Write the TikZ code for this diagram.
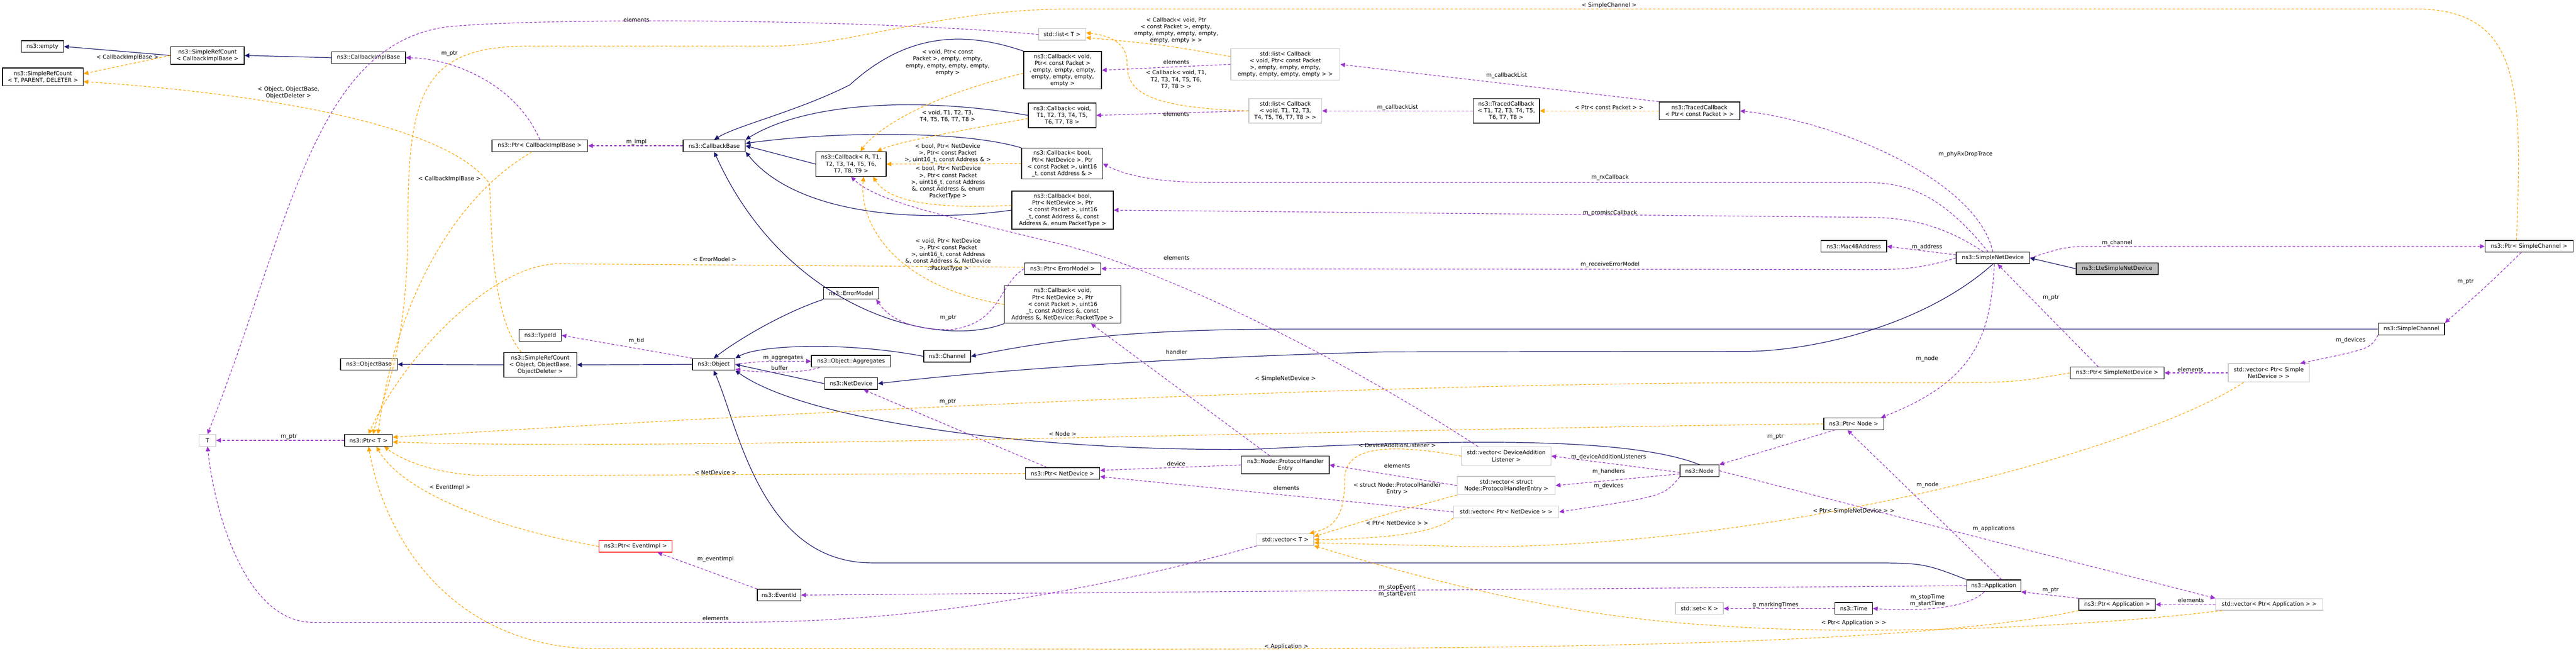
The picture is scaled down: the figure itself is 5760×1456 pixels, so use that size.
\documentclass[tikz,border=0pt]{standalone}
\usepackage{fontspec}
\setmainfont{DejaVu Sans}
\usetikzlibrary{arrows.meta}
\definecolor{navy}{HTML}{191970}
\definecolor{purp}{HTML}{9A32CD}
\definecolor{orng}{HTML}{FFA500}
\begin{document}
\begin{tikzpicture}[x=0.01cm,y=0.01cm,
  every node/.style={font=\fontsize{3.55}{4.3}\selectfont,align=center,inner sep=0pt},
  cls/.style={draw=black,line width=0.45pt,fill=white},
  tbox/.style={draw=black!22,line width=0.45pt,fill=white},
  redbox/.style={draw=red,line width=0.45pt,fill=white},
  graybox/.style={draw=black,line width=0.45pt,fill=black!25},
  inh/.style={draw=navy,line width=0.4pt,-{Triangle[length=3pt,width=2.8pt]}},
  usedge/.style={draw=purp,line width=0.4pt,dash pattern=on 1.6pt off 1.2pt,-{Triangle[length=3pt,width=2.8pt]}},
  tmpl/.style={draw=orng,line width=0.4pt,dash pattern=on 1.6pt off 1.2pt,-{Triangle[length=3pt,width=2.8pt]}},
  lbl/.style={fill=none}]
\useasboundingbox (0,0) rectangle (5760,-1456);
\fill[white] (0,0) rectangle (5760,-1456);
% nodes
\node[cls,minimum width=0.95cm,minimum height=0.26cm] (empty) at (95,-104) {ns3::empty};
\node[cls,minimum width=1.80cm,minimum height=0.40cm] (srcT) at (96,-172) {ns3::SimpleRefCount\\ \textless{} T, PARENT, DELETER \textgreater};
\node[cls,minimum width=1.64cm,minimum height=0.40cm] (srcCIB) at (464,-124) {ns3::SimpleRefCount\\ \textless{} CallbackImplBase \textgreater};
\node[cls,minimum width=1.65cm,minimum height=0.26cm] (cib) at (824,-129) {ns3::CallbackImplBase};
\node[cls,minimum width=2.14cm,minimum height=0.26cm] (ptrcib) at (1207,-326) {ns3::Ptr\textless{} CallbackImplBase \textgreater};
\node[cls,minimum width=1.39cm,minimum height=0.26cm] (cbbase) at (1597,-326) {ns3::CallbackBase};
\node[cls,minimum width=1.57cm,minimum height=0.55cm] (cbR) at (1903,-367) {ns3::Callback\textless{} R, T1,\\ T2, T3, T4, T5, T6,\\ T7, T8, T9 \textgreater};
\node[tbox,minimum width=1.05cm,minimum height=0.26cm] (listT) at (2375,-77) {std::list\textless{} T \textgreater};
\node[cls,minimum width=1.74cm,minimum height=0.84cm] (cbPkt) at (2376,-157) {ns3::Callback\textless{} void,\\ Ptr\textless{} const Packet \textgreater\\ , empty, empty, empty,\\ empty, empty, empty,\\ empty \textgreater};
\node[cls,minimum width=1.51cm,minimum height=0.55cm] (cbT8) at (2375,-258) {ns3::Callback\textless{} void,\\ T1, T2, T3, T4, T5,\\ T6, T7, T8 \textgreater};
\node[cls,minimum width=1.81cm,minimum height=0.69cm] (cbAddr) at (2375,-366) {ns3::Callback\textless{} bool,\\ Ptr\textless{} NetDevice \textgreater, Ptr\\ \textless{} const Packet \textgreater, uint16\\ \_t, const Address \& \textgreater};
\node[tbox,minimum width=2.44cm,minimum height=0.70cm] (listPkt) at (2874,-144) {std::list\textless{} Callback\\ \textless{} void, Ptr\textless{} const Packet\\ \textgreater, empty, empty, empty,\\ empty, empty, empty, empty \textgreater{} \textgreater};
\node[tbox,minimum width=1.63cm,minimum height=0.55cm] (listT8) at (2874,-248) {std::list\textless{} Callback\\ \textless{} void, T1, T2, T3,\\ T4, T5, T6, T7, T8 \textgreater{} \textgreater};
\node[cls,minimum width=1.48cm,minimum height=0.55cm] (tcT8) at (3368,-248) {ns3::TracedCallback\\ \textless{} T1, T2, T3, T4, T5,\\ T6, T7, T8 \textgreater};
\node[cls,minimum width=1.80cm,minimum height=0.40cm] (tcPkt) at (3800,-248) {ns3::TracedCallback\\ \textless{} Ptr\textless{} const Packet \textgreater{} \textgreater};
\node[cls,minimum width=2.27cm,minimum height=0.85cm] (cbEnum) at (2376,-470) {ns3::Callback\textless{} bool,\\ Ptr\textless{} NetDevice \textgreater, Ptr\\ \textless{} const Packet \textgreater, uint16\\ \_t, const Address \&, const\\ Address \&, enum PacketType \textgreater};
\node[cls,minimum width=1.71cm,minimum height=0.26cm] (ptrErr) at (2376,-601) {ns3::Ptr\textless{} ErrorModel \textgreater};
\node[cls,minimum width=2.60cm,minimum height=0.84cm] (cbND) at (2376,-681) {ns3::Callback\textless{} void,\\ Ptr\textless{} NetDevice \textgreater, Ptr\\ \textless{} const Packet \textgreater, uint16\\ \_t, const Address \&, const\\ Address \&, NetDevice::PacketType \textgreater};
\node[cls,minimum width=1.05cm,minimum height=0.26cm] (channel) at (2118,-797) {ns3::Channel};
\node[cls,minimum width=1.23cm,minimum height=0.26cm] (errmodel) at (1903,-656) {ns3::ErrorModel};
\node[cls,minimum width=0.95cm,minimum height=0.26cm] (object) at (1596,-815) {ns3::Object};
\node[cls,minimum width=1.77cm,minimum height=0.26cm] (aggr) at (1903,-808) {ns3::Object::Aggregates};
\node[cls,minimum width=1.19cm,minimum height=0.26cm] (netdev) at (1903,-858) {ns3::NetDevice};
\node[cls,minimum width=0.94cm,minimum height=0.26cm] (typeid) at (1208,-750) {ns3::TypeId};
\node[cls,minimum width=1.27cm,minimum height=0.26cm] (objbase) at (825,-815) {ns3::ObjectBase};
\node[cls,minimum width=1.63cm,minimum height=0.55cm] (srcObj) at (1208,-816) {ns3::SimpleRefCount\\ \textless{} Object, ObjectBase,\\ ObjectDeleter \textgreater};
\node[tbox,minimum width=0.37cm,minimum height=0.26cm] (T) at (464,-985) {T};
\node[cls,minimum width=1.07cm,minimum height=0.26cm] (ptrT) at (824,-985) {ns3::Ptr\textless{} T \textgreater};
\node[redbox,minimum width=1.64cm,minimum height=0.26cm] (ptrEv) at (1421,-1222) {ns3::Ptr\textless{} EventImpl \textgreater};
\node[cls,minimum width=0.97cm,minimum height=0.26cm] (eventid) at (1742,-1331) {ns3::EventId};
\node[cls,minimum width=1.66cm,minimum height=0.26cm] (ptrND) at (2376,-1059) {ns3::Ptr\textless{} NetDevice \textgreater};
\node[cls,minimum width=1.96cm,minimum height=0.40cm] (phe) at (2874,-1040) {ns3::Node::ProtocolHandler\\ Entry};
\node[tbox,minimum width=1.27cm,minimum height=0.26cm] (vecT) at (2874,-1207) {std::vector\textless{} T \textgreater};
\node[cls,minimum width=1.34cm,minimum height=0.26cm] (ptrNode) at (4145,-948) {ns3::Ptr\textless{} Node \textgreater};
\node[cls,minimum width=0.87cm,minimum height=0.26cm] (node) at (3800,-1053) {ns3::Node};
\node[tbox,minimum width=2.00cm,minimum height=0.41cm] (vecDAL) at (3368,-1020) {std::vector\textless{} DeviceAddition\\ Listener \textgreater};
\node[tbox,minimum width=2.19cm,minimum height=0.41cm] (vecPHE) at (3368,-1086) {std::vector\textless{} struct\\ Node::ProtocolHandlerEntry \textgreater};
\node[tbox,minimum width=2.35cm,minimum height=0.26cm] (vecND) at (3368,-1145) {std::vector\textless{} Ptr\textless{} NetDevice \textgreater{} \textgreater};
\node[cls,minimum width=1.21cm,minimum height=0.26cm] (app) at (4458,-1310) {ns3::Application};
\node[cls,minimum width=0.84cm,minimum height=0.26cm] (time) at (4145,-1361) {ns3::Time};
\node[tbox,minimum width=1.07cm,minimum height=0.26cm] (setK) at (3800,-1361) {std::set\textless{} K \textgreater};
\node[cls,minimum width=1.71cm,minimum height=0.26cm] (ptrApp) at (4734,-1352) {ns3::Ptr\textless{} Application \textgreater};
\node[tbox,minimum width=2.39cm,minimum height=0.26cm] (vecApp) at (5074,-1352) {std::vector\textless{} Ptr\textless{} Application \textgreater{} \textgreater};
\node[cls,minimum width=1.47cm,minimum height=0.26cm] (mac) at (4145,-551) {ns3::Mac48Address};
\node[cls,minimum width=1.64cm,minimum height=0.26cm] (snd) at (4456,-577) {ns3::SimpleNetDevice};
\node[graybox,minimum width=1.83cm,minimum height=0.26cm] (lte) at (4734,-601) {ns3::LteSimpleNetDevice};
\node[cls,minimum width=1.97cm,minimum height=0.26cm] (ptrSC) at (5655,-551) {ns3::Ptr\textless{} SimpleChannel \textgreater};
\node[cls,minimum width=1.48cm,minimum height=0.26cm] (sc) at (5392,-736) {ns3::SimpleChannel};
\node[cls,minimum width=2.10cm,minimum height=0.26cm] (ptrSND) at (4734,-834) {ns3::Ptr\textless{} SimpleNetDevice \textgreater};
\node[tbox,minimum width=1.81cm,minimum height=0.41cm] (vecSND) at (5073,-834) {std::vector\textless{} Ptr\textless{} Simple\\ NetDevice \textgreater{} \textgreater};

% inheritance
\draw[inh] (srcCIB.west) -- (empty.east);
\draw[inh] (cib.west) -- (srcCIB.east);
\draw[inh] (srcObj.west) -- (objbase.east);
\draw[inh] (object.west) -- (srcObj.east);
\draw[inh] (cbPkt.north west) .. controls (2130,-60) and (2010,-90) .. (1900,-190) .. controls (1780,-250) and (1650,-280) .. (cbbase.north);
\draw[inh] (cbT8.west) .. controls (2050,-215) and (1800,-230) .. (cbbase.north east);
\draw[inh] (cbR.west) -- (cbbase.east);
\draw[inh] (cbAddr.north west) .. controls (2150,-290) and (1850,-295) .. ([yshift=1.5pt]cbbase.east);
\draw[inh] (cbEnum.west) .. controls (2050,-500) and (1780,-480) .. (cbbase.south east);
\draw[inh] (cbND.south west) .. controls (2100,-780) and (1760,-700) .. (cbbase.south);
\draw[inh] (errmodel.south west) .. controls (1750,-700) and (1650,-760) .. (object.north);
\draw[inh] (channel.west) .. controls (1900,-765) and (1700,-770) .. (object.north east);
\draw[inh] (netdev.west) -- (object.east);
\draw[inh] (node.north) .. controls (3650,-980) and (3300,-980) .. (2800,-1005) .. controls (2300,-1010) and (1800,-940) .. (object.south east);
\draw[inh] (app.north west) .. controls (4300,-1259) .. (4160,-1259) -- (1950,-1259) .. controls (1700,-1259) and (1650,-950) .. (object.south);
\draw[inh] (sc.west) -- (2900,-736) .. controls (2600,-736) and (2400,-750) .. (channel.east);
\draw[inh] (snd.south) .. controls (4300,-730) and (4050,-786) .. (3900,-786) -- (3100,-787) .. controls (2600,-800) and (2200,-830) .. (netdev.east);
\draw[inh] (lte.west) -- (snd.east);

% usage (purple)
\draw[usedge] (cbbase.west) -- (ptrcib.east);
\node[lbl] (l1) at (1423,-318) {m\_impl};
\draw[usedge] (ptrcib.north) .. controls (1150,-180) and (1000,-130) .. (cib.east);
\node[lbl] (l2) at (1005,-120) {m\_ptr};
\draw[usedge] (listT.west) .. controls (1900,-40) and (1200,-40) .. (1000,-60) .. controls (700,-100) and (650,-500) .. (T.north);
\node[lbl] (l3) at (1423,-44) {elements};
\draw[usedge] (listPkt.west) -- (cbPkt.east);
\node[lbl] (l4) at (2630,-139) {elements};
\draw[usedge] (listT8.west) -- (cbT8.east);
\node[lbl] (l5) at (2630,-255) {elements};
\draw[usedge] (tcPkt.north west) -- (listPkt.east);
\node[lbl] (l6) at (3369,-169) {m\_callbackList};
\draw[usedge] (tcT8.west) -- (listT8.east);
\node[lbl] (l7) at (3125,-240) {m\_callbackList};
\draw[usedge] (snd.north) .. controls (4420,-400) and (4100,-270) .. (tcPkt.east);
\node[lbl] (l8) at (4395,-345) {m\_phyRxDropTrace};
\draw[usedge] ([xshift=-3pt]snd.north) .. controls (4330,-420) and (4250,-408) .. (4160,-408) -- (2700,-408) .. controls (2600,-408) and (2520,-395) .. (cbAddr.east);
\node[lbl] (l9) at (3600,-397) {m\_rxCallback};
\draw[usedge] ([xshift=-6pt]snd.north) .. controls (4340,-500) and (4260,-486) .. (4170,-486) -- (cbEnum.east);
\node[lbl] (l10) at (3600,-476) {m\_promiscCallback};
\draw[usedge] (snd.west) .. controls (4300,-600) and (4250,-603) .. (4190,-603) -- (ptrErr.east);
\node[lbl] (l11) at (3600,-592) {m\_receiveErrorModel};
\draw[usedge] (snd.east) .. controls (4620,-551) .. (4700,-551) -- (ptrSC.west);
\node[lbl] (l12) at (4734,-543) {m\_channel};
\draw[usedge] ([yshift=2pt]snd.west) -- (mac.east);
\node[lbl] (l13) at (4309,-553) {m\_address};
\draw[usedge] ([xshift=-5pt]ptrSC.south) .. controls (5560,-640) .. (sc.north east);
\node[lbl] (l14) at (5513,-630) {m\_ptr};
\draw[usedge] (sc.south west) .. controls (5300,-780) .. ([xshift=-6pt]vecSND.north east);
\node[lbl] (l15) at (5256,-761) {m\_devices};
\draw[usedge] (vecSND.west) -- (ptrSND.east);
\node[lbl] (l16) at (4898,-826) {elements};
\draw[usedge] ([xshift=-12pt]ptrSND.north) -- ([xshift=3pt]snd.south);
\node[lbl] (l17) at (4586,-666) {m\_ptr};
\draw[usedge] ([xshift=1pt]snd.south) .. controls (4450,-750) and (4420,-850) .. ([xshift=-2pt]ptrNode.north east);
\node[lbl] (l18) at (4309,-802) {m\_node};
\draw[usedge] ([xshift=-12pt]ptrNode.south) -- (node.north east);
\node[lbl] (l19) at (3970,-977) {m\_ptr};
\draw[usedge] ([yshift=-1pt]node.west) -- (vecDAL.east);
\node[lbl] (l20) at (3597,-1022) {m\_deviceAdditionListeners};
\draw[usedge] ([yshift=-2pt]node.west) -- (vecPHE.east);
\node[lbl] (l21) at (3597,-1055) {m\_handlers};
\draw[usedge] (node.south west) .. controls (3720,-1110) .. (vecND.east);
\node[lbl] (l22) at (3597,-1087) {m\_devices};
\draw[usedge] (node.east) -- (vecApp.north west);
\node[lbl] (l23) at (4458,-1183) {m\_applications};
\draw[usedge] (vecApp.west) -- (ptrApp.east);
\node[lbl] (l24) at (4899,-1343) {elements};
\draw[usedge] (ptrApp.north west) -- (app.south east);
\node[lbl] (l25) at (4585,-1320) {m\_ptr};
\draw[usedge] ([xshift=5pt]app.north) -- ([xshift=-4pt]ptrNode.south);
\node[lbl] (l26) at (4310,-1085) {m\_node};
\draw[usedge] ([xshift=-6pt]app.south) .. controls (4400,-1360) and (4300,-1368) .. (time.east);
\node[lbl] (l27) at (4310,-1343) {m\_stopTime\\m\_startTime};
\draw[usedge] (time.west) -- (setK.east);
\node[lbl] (l28) at (3970,-1353) {g\_markingTimes};
\draw[usedge] (app.west) -- (eventid.east);
\node[lbl] (l29) at (3124,-1322) {m\_stopEvent\\m\_startEvent};
\draw[usedge] (eventid.north west) -- ([xshift=14pt]ptrEv.south);
\node[lbl] (l30) at (1600,-1251) {m\_eventImpl};
\draw[usedge] (vecT.south west) .. controls (2200,-1390) and (1800,-1392) .. (1600,-1392) -- (700,-1392) .. controls (550,-1392) and (480,-1150) .. (T.south);
\node[lbl] (l31) at (1600,-1383) {elements};
\draw[usedge] (ptrT.west) -- (T.east);
\node[lbl] (l32) at (646,-977) {m\_ptr};
\draw[usedge] (vecPHE.west) -- (phe.east);
\node[lbl] (l33) at (3124,-1042) {elements};
\draw[usedge] (vecND.west) -- ([yshift=-2pt]ptrND.east);
\node[lbl] (l34) at (2876,-1092) {elements};
\draw[usedge] (phe.west) -- ([yshift=2pt]ptrND.east);
\node[lbl] (l35) at (2630,-1037) {device};
\draw[usedge] ([xshift=-10pt]phe.north) -- ([xshift=18pt]cbND.south);
\node[lbl] (l36) at (2631,-787) {handler};
\draw[usedge] ([xshift=-18pt]vecDAL.north) .. controls (3000,-800) and (2600,-600) .. (2359,-543) .. controls (2100,-480) and (1960,-450) .. (cbR.south);
\node[lbl] (l37) at (2631,-577) {elements};
\draw[usedge] ([xshift=-10pt]ptrND.north) -- ([xshift=8pt]netdev.south);
\node[lbl] (l38) at (2119,-899) {m\_ptr};
\draw[usedge] (ptrErr.west) .. controls (2230,-640) and (2240,-720) .. (2130,-737) .. controls (2020,-740) and (1980,-700) .. ([xshift=16pt]errmodel.south);
\node[lbl] (l39) at (2120,-711) {m\_ptr};
\draw[usedge] (object.east) .. controls (1700,-808) .. (aggr.west);
\node[lbl] (l40) at (1751,-801) {m\_aggregates};
\draw[usedge] ([xshift=-20pt]aggr.south) .. controls (1800,-835) and (1700,-835) .. ([yshift=-3pt]object.east);
\node[lbl] (l41) at (1743,-823) {buffer};
\draw[usedge] (object.north west) -- (typeid.east);
\node[lbl] (l42) at (1423,-762) {m\_tid};

% template (orange)
\draw[tmpl] (srcCIB.west) -- ([yshift=2pt]srcT.east);
\node[lbl] (t1) at (285,-128) {\textless{} CallbackImplBase \textgreater};
\draw[tmpl] ([xshift=-12pt]srcObj.north) .. controls (1090,-700) and (1100,-450) .. (1094,-410) .. controls (1000,-280) and (600,-210) .. ([yshift=-3pt]srcT.east);
\node[lbl] (t2) at (645,-207) {\textless{} Object, ObjectBase,\\ObjectDeleter \textgreater};
\draw[tmpl] ([xshift=-5pt]ptrcib.south) .. controls (1000,-450) and (880,-700) .. ([xshift=6pt]ptrT.north);
\node[lbl] (t3) at (1005,-400) {\textless{} CallbackImplBase \textgreater};
\draw[tmpl] ([xshift=-8pt]ptrSC.north) .. controls (5640,-200) and (5640,-20) .. (5400,-20) -- (2400,-20) .. controls (2100,-20) and (1900,-103) .. (1731,-103) -- (1184,-103) .. controls (950,-103) and (912,-200) .. (912,-500) .. controls (912,-800) and (850,-900) .. ([xshift=3pt]ptrT.north);
\node[lbl] (t4) at (3598,-12) {\textless{} SimpleChannel \textgreater};
\draw[tmpl] ([yshift=1pt]ptrErr.west) -- (1250,-590) .. controls (1100,-590) and (900,-800) .. (ptrT.north);
\node[lbl] (t5) at (1598,-580) {\textless{} ErrorModel \textgreater};
\draw[tmpl] (ptrSND.west) .. controls (4500,-856) .. (4300,-856) -- (3900,-856) .. controls (3000,-860) and (1800,-920) .. ([yshift=2pt]ptrT.east);
\node[lbl] (t6) at (2874,-847) {\textless{} SimpleNetDevice \textgreater};
\draw[tmpl] (ptrNode.west) .. controls (3000,-960) and (1500,-1010) .. ([yshift=-1pt]ptrT.east);
\node[lbl] (t7) at (2376,-971) {\textless{} Node \textgreater};
\draw[tmpl] (ptrND.west) -- (1100,-1064) .. controls (980,-1064) and (900,-1030) .. ([xshift=10pt]ptrT.south);
\node[lbl] (t8) at (1600,-1057) {\textless{} NetDevice \textgreater};
\draw[tmpl] (ptrEv.west) .. controls (1100,-1180) and (900,-1100) .. ([xshift=5pt]ptrT.south);
\node[lbl] (t9) at (1006,-1090) {\textless{} EventImpl \textgreater};
\draw[tmpl] (ptrApp.south west) .. controls (4300,-1440) and (3500,-1452) .. (2500,-1452) -- (1300,-1450) .. controls (1000,-1430) and (860,-1200) .. (ptrT.south);
\node[lbl] (t10) at (2876,-1446) {\textless{} Application \textgreater};
\draw[tmpl] (vecDAL.west) .. controls (3100,-990) and (3007,-1000) .. (3007,-1070) .. controls (3007,-1160) and (2980,-1180) .. ([xshift=-3pt]vecT.north east);
\node[lbl] (t11) at (3124,-996) {\textless{} DeviceAdditionListener \textgreater};
\draw[tmpl] (vecPHE.south west) .. controls (3100,-1150) .. ([yshift=2pt]vecT.east);
\node[lbl] (t12) at (3124,-1093) {\textless{} struct Node::ProtocolHandler\\Entry \textgreater};
\draw[tmpl] (vecND.south west) .. controls (3200,-1200) and (3050,-1205) .. (vecT.east);
\node[lbl] (t13) at (3124,-1170) {\textless{} Ptr\textless{} NetDevice \textgreater{} \textgreater};
\draw[tmpl] ([xshift=-16pt]vecSND.south) .. controls (4800,-1000) and (4000,-1223) .. (3300,-1223) -- ([yshift=-2pt]vecT.east);
\node[lbl] (t14) at (4145,-1143) {\textless{} Ptr\textless{} SimpleNetDevice \textgreater{} \textgreater};
\draw[tmpl] ([xshift=-30pt]vecApp.south) .. controls (4600,-1410) and (4100,-1420) .. (3836,-1399) .. controls (3500,-1380) and (3200,-1300) .. (vecT.south east);
\node[lbl] (t15) at (4145,-1393) {\textless{} Ptr\textless{} Application \textgreater{} \textgreater};
\draw[tmpl] ([yshift=-2pt]cbPkt.west) .. controls (2050,-220) and (1950,-300) .. ([xshift=6pt]cbR.north);
\node[lbl] (t16) at (2119,-140) {\textless{} void, Ptr\textless{} const\\Packet \textgreater, empty, empty,\\empty, empty, empty, empty,\\empty \textgreater};
\draw[tmpl] ([yshift=-2pt]cbT8.west) .. controls (2100,-300) and (2000,-320) .. ([xshift=-6pt]cbR.north east);
\node[lbl] (t17) at (2119,-260) {\textless{} void, T1, T2, T3,\\T4, T5, T6, T7, T8 \textgreater};
\draw[tmpl] (cbAddr.west) -- (cbR.east);
\node[lbl] (t18) at (2119,-343) {\textless{} bool, Ptr\textless{} NetDevice\\ \textgreater, Ptr\textless{} const Packet\\ \textgreater, uint16\_t, const Address \& \textgreater};
\node[lbl] (t19) at (2120,-408) {\textless{} bool, Ptr\textless{} NetDevice\\ \textgreater, Ptr\textless{} const Packet\\ \textgreater, uint16\_t, const Address\\ \&, const Address \&, enum\\ PacketType \textgreater};
\draw[tmpl] ([yshift=3pt]cbEnum.west) .. controls (2050,-470) and (1980,-440) .. ([xshift=14pt]cbR.south);
\draw[tmpl] (cbND.west) .. controls (2000,-640) and (1920,-500) .. ([xshift=8pt]cbR.south);
\node[lbl] (t20) at (2120,-570) {\textless{} void, Ptr\textless{} NetDevice\\ \textgreater, Ptr\textless{} const Packet\\ \textgreater, uint16\_t, const Address\\ \&, const Address \&, NetDevice\\ ::PacketType \textgreater};
\draw[tmpl] ([yshift=5pt]listPkt.west) .. controls (2600,-100) .. ([yshift=-2pt]listT.east);
\node[lbl] (t21) at (2630,-68) {\textless{} Callback\textless{} void, Ptr\\ \textless{} const Packet \textgreater, empty,\\ empty, empty, empty, empty,\\ empty, empty \textgreater{} \textgreater};
\draw[tmpl] (listT8.west) .. controls (2550,-240) and (2520,-200) .. (2520,-140) .. controls (2520,-90) and (2470,-78) .. ([yshift=1pt]listT.east);
\node[lbl] (t22) at (2630,-178) {\textless{} Callback\textless{} void, T1,\\ T2, T3, T4, T5, T6,\\ T7, T8 \textgreater{} \textgreater};
\draw[tmpl] (tcPkt.west) -- (tcT8.east);
\node[lbl] (t23) at (3598,-240) {\textless{} Ptr\textless{} const Packet \textgreater{} \textgreater};
\end{tikzpicture}
\end{document}
